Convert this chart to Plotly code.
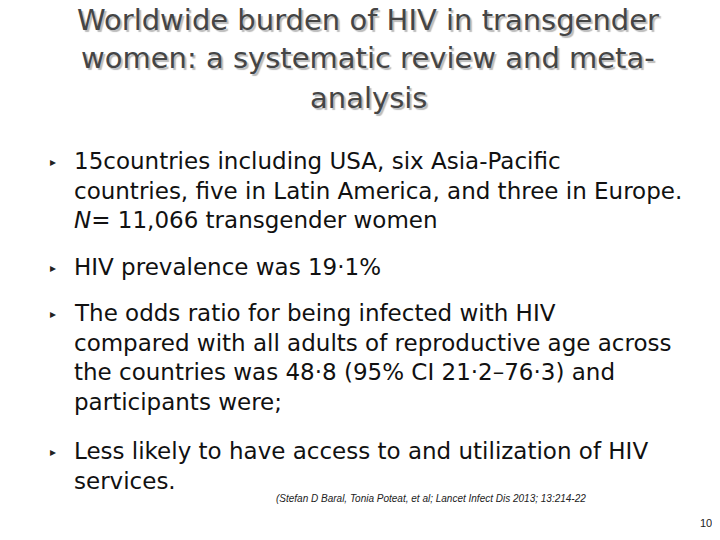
import plotly.graph_objects as go

title_lines = ["Worldwide burden of HIV in transgender", "women: a systematic review and meta-", "analysis"]
title_y = [12, 50, 90]
bullets = [
    ["15countries including USA, six Asia-Pacific", "countries, five in Latin America, and three in Europe.", "<i>N</i>= 11,066 transgender women"],
    ["HIV prevalence was 19·1%"],
    ["The odds ratio for being infected with HIV", "compared with all adults of reproductive age across", "the countries was 48·8 (95% CI 21·2–76·3) and", "participants were;"],
    ["Less likely to have access to and utilization of HIV", "services."],
]
bullet_y = [153, 259, 305, 443]
line_h = 29.5
citation = "(Stefan D Baral, Tonia Poteat, et al; Lancet Infect Dis 2013; 13:214-22"
page = "10"

W, H = 720, 540
fig = go.Figure()
ann = []
def py(y): return 1 - y / H
for t, y in zip(title_lines, title_y):
    ann.append(dict(x=0.5, y=py(y), text=t, showarrow=False, xanchor="center", yanchor="middle",
                    font=dict(family="DejaVu Sans", size=29, color="#454545",
                              shadow="2px 2px 1px #bbbbbb")))
for lines, y0 in zip(bullets, bullet_y):
    ann.append(dict(x=40 / W, y=py(y0 + 1), text="▸", showarrow=False, xanchor="left", yanchor="middle",
                    font=dict(family="DejaVu Sans", size=12, color="#222222")))
    for i, l in enumerate(lines):
        ann.append(dict(x=64 / W, y=py(y0 + i * line_h), text=l, showarrow=False, xanchor="left", yanchor="middle",
                        font=dict(family="DejaVu Sans", size=23, color="#111111")))
ann.append(dict(x=266 / W, y=py(490), text="<i>" + citation + "</i>", showarrow=False, xanchor="left", yanchor="middle",
                font=dict(family="Liberation Sans", size=10, color="#222222")))
ann.append(dict(x=706 / W, y=py(515), text=page, showarrow=False, xanchor="right", yanchor="middle",
                font=dict(family="Liberation Sans", size=11, color="#222222")))

fig.update_layout(width=W, height=H, margin=dict(l=0, r=0, t=0, b=0), paper_bgcolor="white", plot_bgcolor="white",
                  xaxis=dict(visible=False, range=[0, 1]), yaxis=dict(visible=False, range=[0, 1]), annotations=ann,
                  showlegend=False)
fig.write_html("out.html")
